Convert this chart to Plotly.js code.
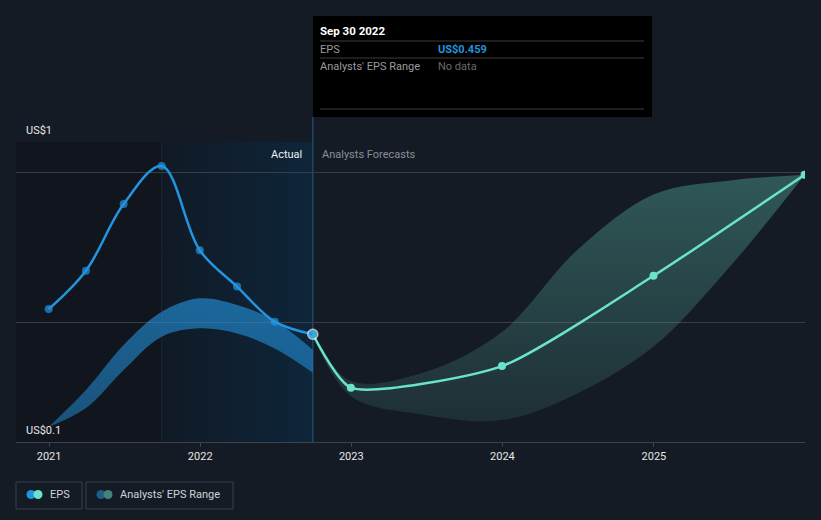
<!DOCTYPE html>
<html>
<head>
<meta charset="utf-8">
<script src="https://cdn.plot.ly/plotly-3.0.1.min.js"></script>
<style>
  html, body { margin: 0; padding: 0; background: #151b25; }
  #chart { width: 821px; height: 520px; }
</style>
</head>
<body>
<div id="chart"></div>
<script>
// ---- data ----
const actualDates = ['2020-12-31','2021-03-31','2021-06-30','2021-09-30','2021-12-31','2022-03-31','2022-06-30','2022-09-30'];
const actualEPS   = [0.543, 0.671, 0.893, 1.02, 0.739, 0.618, 0.501, 0.459];

const forecastDates = ['2022-09-30','2022-12-31','2023-12-31','2024-12-31','2025-12-31'];
const forecastEPS   = [0.459, 0.281, 0.353, 0.654, 0.991];

const pastRangeDates = ['2020-12-31','2021-03-31','2021-06-30','2021-09-30','2021-12-31','2022-03-31','2022-06-30','2022-09-30'];
const pastRangeLow   = [0.15, 0.213, 0.34, 0.451, 0.479, 0.462, 0.412, 0.331];
const pastRangeHigh  = [0.15, 0.273, 0.423, 0.534, 0.579, 0.557, 0.504, 0.407];

const forecastRangeDates = ['2022-09-30','2022-12-31','2023-06-30','2023-12-31','2024-06-30','2024-12-31','2025-06-30','2025-12-31'];
const forecastRangeLow   = [0.459, 0.253, 0.19, 0.173, 0.262, 0.418, 0.679, 0.99];
const forecastRangeHigh  = [0.459, 0.303, 0.334, 0.467, 0.74, 0.925, 0.971, 0.99];

const yearTicks  = ['2021-01-01','2022-01-01','2023-01-01','2024-01-01','2025-01-01'];
const yearLabels = ['2021','2022','2023','2024','2025'];

const hoverDate = 'Sep 30 2022';
const hoverEPS = 'US$0.459';
const actualStartHighlight = '2021-09-30';
const actualEnd = '2022-09-30';

// ---- layout helpers ----
const W = 821, H = 520;
const M = {l: 16, r: 16, t: 142, b: 78};
const PW = W - M.l - M.r, PH = H - M.t - M.b;
const px = v => (v - M.l) / PW;
const py = v => (H - M.b - v) / PH;
const FONT = 'Roboto, "Open Sans", sans-serif';

const EPS_BLUE = '#2394df';
const TEAL = '#6be3cc';

// ---- traces ----
const traces = [
  { x: pastRangeDates, y: pastRangeLow, type: 'scatter', mode: 'lines',
    line: {width: 0, shape: 'spline'}, hoverinfo: 'skip', showlegend: false },
  { x: pastRangeDates, y: pastRangeHigh, type: 'scatter', mode: 'lines', name: "Analysts' EPS Range",
    line: {width: 0, shape: 'spline'}, fill: 'tonexty', fillcolor: 'rgba(35,148,223,0.55)',
    fillgradient: {type: 'vertical', colorscale: [[0, 'rgba(35,148,223,0.48)'], [1, 'rgba(35,148,223,0.62)']]},
    hoverinfo: 'skip', showlegend: false },
  { x: forecastRangeDates, y: forecastRangeLow, type: 'scatter', mode: 'lines',
    line: {width: 0, shape: 'spline'}, hoverinfo: 'skip', showlegend: false },
  { x: forecastRangeDates, y: forecastRangeHigh, type: 'scatter', mode: 'lines', name: "Analysts' EPS Range",
    line: {width: 0, shape: 'spline'}, fill: 'tonexty', fillcolor: 'rgba(95,196,177,0.28)',
    fillgradient: {type: 'vertical', colorscale: [[0, 'rgba(95,196,177,0.12)'], [1, 'rgba(95,196,177,0.36)']]},
    hoverinfo: 'skip', showlegend: false },
  { x: forecastDates, y: forecastEPS, type: 'scatter', mode: 'lines+markers', name: 'EPS forecast',
    line: {color: TEAL, width: 2.5, shape: 'spline', smoothing: 0.6},
    marker: {color: TEAL, size: 8}, showlegend: false },
  { x: actualDates, y: actualEPS, type: 'scatter', mode: 'lines+markers', name: 'EPS',
    line: {color: EPS_BLUE, width: 2.5, shape: 'spline'},
    marker: {color: EPS_BLUE, size: actualEPS.map((v, i) => i === actualEPS.length - 1 ? 10 : 8),
             line: {color: actualEPS.map((v, i) => i === actualEPS.length - 1 ? '#ffffff' : EPS_BLUE),
                    width: actualEPS.map((v, i) => i === actualEPS.length - 1 ? 1.5 : 0)}},
    showlegend: false }
];

// ---- shapes ----
const shapes = [];
shapes.push({type: 'rect', xref: 'x', yref: 'paper', x0: '2020-09-01', x1: actualStartHighlight, y0: 0, y1: 1,
  fillcolor: '#11161e', line: {width: 0}, layer: 'below'});
const t0 = new Date(actualStartHighlight).getTime(), t1 = new Date(actualEnd).getTime();
shapes.push({type: 'line', xref: 'x', yref: 'paper', x0: actualStartHighlight, x1: actualStartHighlight, y0: 0, y1: 1,
  line: {color: '#1a2633', width: 1}, layer: 'below'});
// hover line
shapes.push({type: 'line', xref: 'x', yref: 'paper', x0: actualEnd, x1: actualEnd, y0: 0, y1: py(117),
  line: {color: '#1d4868', width: 1.5}, layer: 'below'});
// tooltip box
shapes.push({type: 'rect', xref: 'paper', yref: 'paper', x0: px(313), x1: px(652), y0: py(117), y1: py(16),
  fillcolor: '#000000', line: {width: 0}, layer: 'above'});
[41, 58, 109].forEach(yv => shapes.push({type: 'line', xref: 'paper', yref: 'paper',
  x0: px(320), x1: px(644), y0: py(yv), y1: py(yv), line: {color: '#3c3c3c', width: 1}, layer: 'above'}));
// legend boxes
[[16, 82], [86, 233]].forEach(([a, b]) => shapes.push({type: 'rect', xref: 'paper', yref: 'paper',
  x0: px(a), x1: px(b), y0: py(509), y1: py(482), line: {color: '#3b414b', width: 1}, fillcolor: 'rgba(0,0,0,0)', layer: 'above'}));
function dot(cx, cy, color) {
  return {type: 'circle', xref: 'paper', yref: 'paper', xsizemode: 'pixel', ysizemode: 'pixel',
    xanchor: px(cx), yanchor: py(cy), x0: -4.5, x1: 4.5, y0: -4.5, y1: 4.5,
    fillcolor: color, line: {width: 0}, layer: 'above'};
}
shapes.push(dot(31, 494.5, EPS_BLUE), dot(38, 494.5, TEAL));
shapes.push(dot(101, 494.5, '#1f5c88'), dot(108, 494.5, '#3f857c'));

// smooth horizontal gradient for the last actual year
const svg = "<svg xmlns='http://www.w3.org/2000/svg' width='200' height='100' viewBox='0 0 200 100' preserveAspectRatio='none'>" +
  "<defs><linearGradient id='g' x1='0' y1='0' x2='1' y2='0'>" +
  "<stop offset='0' stop-color='rgb(16,26,38)'/><stop offset='1' stop-color='rgb(14,37,58)'/></linearGradient></defs>" +
  "<rect width='200' height='100' fill='url(#g)'/></svg>";
const images = [{
  source: 'data:image/svg+xml;charset=utf-8,' + encodeURIComponent(svg),
  xref: 'x', yref: 'paper', x: t0, y: 1, sizex: t1 - t0, sizey: 1,
  xanchor: 'left', yanchor: 'top', sizing: 'stretch', layer: 'below'
}];

// ---- annotations ----
function ann(text, x, y, opts) {
  return Object.assign({text: text, xref: 'paper', yref: 'paper', x: px(x), y: py(y), showarrow: false,
    xanchor: 'left', yanchor: 'middle', font: {family: FONT, size: 11, color: '#e8e8e8'}}, opts || {});
}
const annotations = [
  ann('US$1', 24, 130),
  ann('US$0.1', 24, 430),
  ann('Actual', 304, 154, {xanchor: 'right', font: {family: FONT, size: 11, color: '#f0f0f0'}}),
  ann('Analysts Forecasts', 320, 154, {font: {family: FONT, size: 11, color: '#8a8e96'}}),
  ann('<b>' + hoverDate + '</b>', 318, 31, {font: {family: FONT, size: 11.5, color: '#ffffff'}}),
  ann('EPS', 318, 49.5, {font: {family: FONT, size: 11, color: '#9a9a9a'}}),
  ann('<b>' + hoverEPS + '</b>', 436, 49.5, {font: {family: FONT, size: 11, color: EPS_BLUE}}),
  ann("Analysts' EPS Range", 318, 66.5, {font: {family: FONT, size: 11, color: '#9a9a9a'}}),
  ann('No data', 436, 66.5, {font: {family: FONT, size: 11, color: '#6a6a6a'}}),
  ann('EPS', 48, 494.5, {font: {family: FONT, size: 11, color: '#cfd2d6'}}),
  ann("Analysts' EPS Range", 118, 494.5, {font: {family: FONT, size: 11, color: '#cfd2d6'}})
];

const layout = {
  width: W, height: H,
  margin: M,
  paper_bgcolor: '#151b25',
  plot_bgcolor: '#151b25',
  showlegend: false,
  font: {family: FONT, color: '#e8e8e8', size: 11},
  xaxis: {
    type: 'date',
    range: ['2020-10-13', '2026-01-01'],
    tickvals: yearTicks, ticktext: yearLabels,
    showgrid: false, zeroline: false,
    showline: true, linecolor: '#3d434d', linewidth: 1,
    ticks: 'outside', ticklen: 4, tickcolor: '#3d434d',
    tickfont: {family: FONT, size: 11, color: '#e6e6e6'},
    fixedrange: true
  },
  yaxis: {
    range: [0.1, 1.1],
    tickvals: [0.5, 1, 1.0995],
    showticklabels: false,
    showgrid: true, gridcolor: '#383d46', gridwidth: 1,
    zeroline: false, showline: false, ticks: '',
    fixedrange: true
  },
  shapes: shapes,
  images: images,
  annotations: annotations
};

Plotly.newPlot('chart', traces, layout, {displayModeBar: false, staticPlot: true});
</script>
</body>
</html>
